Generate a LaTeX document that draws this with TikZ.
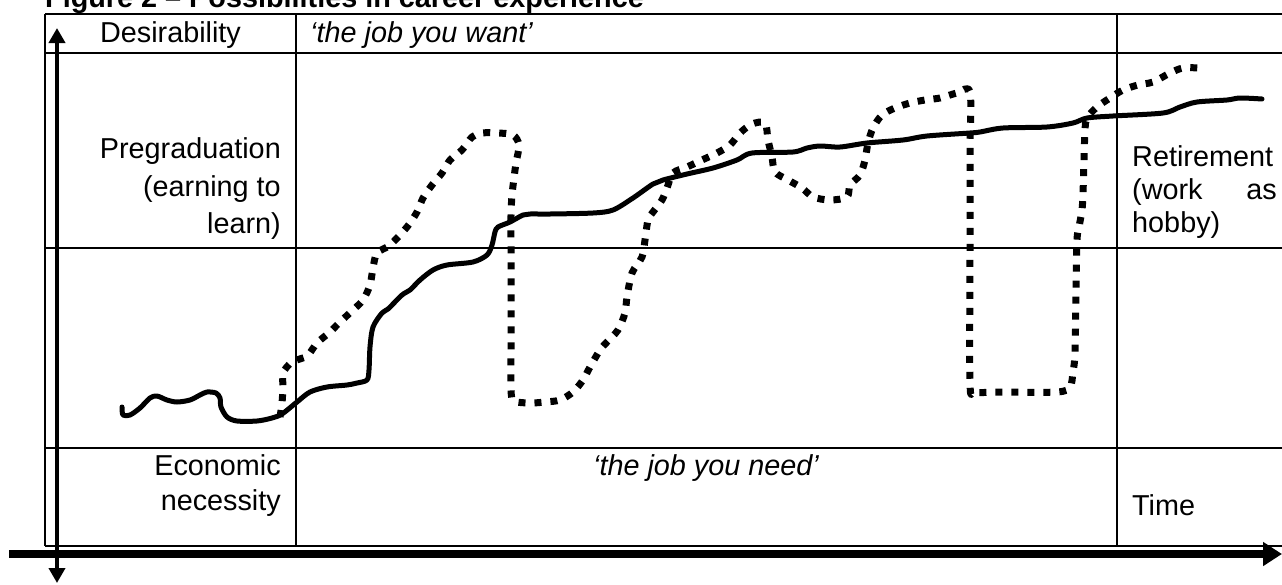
\documentclass[tikz,border=0pt]{standalone}
\usepackage{fontspec}
\setmainfont{Liberation Sans}
\usetikzlibrary{arrows.meta}
\begin{document}
\begin{tikzpicture}[x=1pt,y=-1pt,
  grid/.style={line width=1.8pt},
  lbl/.style={inner sep=0pt, font=\fontsize{28.8}{36}\selectfont},
  solidcurve/.style={line width=5pt, line cap=round, line join=round},
  dotcurve/.style={line width=7pt, dash pattern=on 7pt off 9pt, line cap=butt, line join=round},
  vaxis/.style={line width=4pt, {Triangle[width=16pt,length=15pt]}-{Triangle[width=16pt,length=15pt]}},
  haxis/.style={line width=8pt, -{Triangle[width=23pt,length=19pt]}}]
\useasboundingbox (0,0) rectangle (1282,584);
\clip (0,0) rectangle (1282,584);
% table
\draw[grid] (45,14) -- (1295,14);
\draw[grid] (45,53) -- (1295,53);
\draw[grid] (45,248) -- (1295,248);
\draw[grid] (45,448) -- (1295,448);
\draw[grid] (45,546) -- (1295,546);
\draw[grid] (45,14) -- (45,546);
\draw[grid] (296,14) -- (296,546);
\draw[grid] (1117,14) -- (1117,546);
% texts
\node[lbl, anchor=base west] (title) at (45,7) {\bfseries Figure 2 – Possibilities in career experience};
\node[lbl, anchor=base] (desir) at (170.5,42) {Desirability};
\node[lbl, anchor=base west] (want) at (310,42) {\itshape ‘the job you want’};
\node[lbl, anchor=base east] (preg1) at (281,158) {Pregraduation};
\node[lbl, anchor=base east] (preg2) at (281,196) {(earning to};
\node[lbl, anchor=base east] (preg3) at (281,233) {learn)};
\node[lbl, anchor=base east] (econ1) at (281,475) {Economic};
\node[lbl, anchor=base east] (econ2) at (281,510) {necessity};
\node[lbl, anchor=base] (need) at (706,475) {\itshape ‘the job you need’};
\node[lbl, anchor=base west] (time) at (1132,515) {Time};
\node[lbl, anchor=base west] (ret1) at (1132,166) {Retirement};
\node[lbl, anchor=base west] (ret2) at (1132,199) {(work};
\node[lbl, anchor=base east] (ret3) at (1277,199) {as};
\node[lbl, anchor=base west] (ret4) at (1132,232) {hobby)};
% curves
\draw[solidcurve] plot[smooth, tension=0.5] coordinates {(122,407) (123,415) (130,415) (140,408) (150,398) (157,396) (167,400) (177,402) (190,400) (200,395) (207,392) (216,393) (220,398) (221,407) (227,417) (237,421) (257,421) (272,418) (282,414) (297,402) (310,392) (327,387) (347,385) (357,383) (367,380) (369,370) (370,347) (373,327) (382,313) (388,309) (402,295) (410,290) (420,280) (433,270) (447,265) (473,262) (487,255) (492,245) (495,232) (498,227) (510,222) (523,215) (530,214) (550,214) (593,213) (613,210) (633,198) (653,184) (663,180) (687,174) (713,168) (737,160) (752,153) (793,152) (807,148) (820,146) (840,147) (867,143) (903,140) (927,136) (970,133) (980,132) (1003,128) (1047,127) (1073,123) (1087,118) (1113,116) (1163,113) (1180,107) (1197,102) (1227,100) (1240,98) (1262,99)};
\draw[dotcurve] plot[smooth, tension=0.5] coordinates {(280,417) (282,403) (283,387) (283,373) (292,362) (307,356) (317,343) (330,332) (340,322) (353,310) (363,300) (370,285) (373,268) (377,253) (390,245) (407,227) (417,212) (423,198) (432,185) (442,173) (450,160) (462,150) (472,137) (482,133) (498,133) (513,135) (519,145) (516,163) (514,178) (512,195) (511,215) (511,250) (511,300) (511,350) (511,390) (514,401) (530,403) (545,402) (560,400) (573,392) (583,380) (590,367) (600,350) (607,342) (618,330) (625,313) (627,297) (632,273) (642,257) (645,240) (648,220) (653,212) (662,200) (667,188) (673,173) (687,167) (702,160) (717,153) (730,145) (740,133) (752,124) (765,123) (768,140) (772,157) (775,172) (788,180) (802,188) (813,197) (830,200) (847,197) (850,185) (860,175) (865,160) (868,143) (873,128) (882,115) (895,108) (910,103) (925,100) (940,98) (957,93) (970,92) (970,150) (970,250) (970,383) (975,392) (1000,392) (1057,392) (1070,387) (1073,372) (1075,353) (1076,293) (1077,240) (1079,227) (1082,210) (1083,193) (1084,160) (1085,130) (1087,118) (1097,107) (1110,98) (1123,90) (1138,85) (1153,82) (1170,73) (1183,68) (1200,68)};
% axes
\coordinate (vtop) at (57,28);
\coordinate (vbot) at (57,583);
\coordinate (hleft) at (9,554);
\coordinate (hright) at (1282,554);
\draw[vaxis] (vbot) -- (vtop);
\draw[haxis] (hleft) -- (hright);
\end{tikzpicture}
\end{document}
